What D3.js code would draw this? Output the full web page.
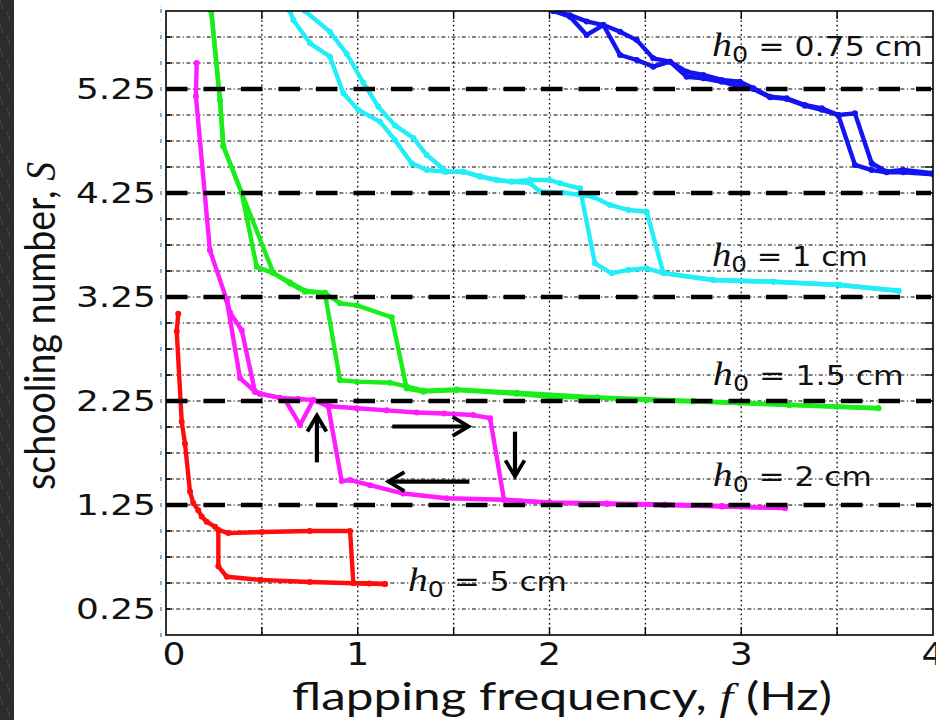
<!DOCTYPE html>
<html><head><meta charset="utf-8">
<script src="https://cdn.jsdelivr.net/npm/d3@7/dist/d3.min.js"></script>
<style>html,body{margin:0;padding:0;background:#fff;overflow:hidden}svg{display:block}</style>
</head><body>
<script>
// ---------- DATA (f in Hz, S schooling number) ----------
const seriesNames = ["h0 = 0.75 cm", "h0 = 1 cm", "h0 = 1.5 cm", "h0 = 2 cm", "h0 = 5 cm"];
const seriesColors = ["#1414f0", "#22eef8", "#1aee1a", "#ff1cff", "#ff0d0d"];

const blueUp = [[2.02,6.0],[2.107,5.96],[2.194,5.90],[2.281,5.865],[2.368,5.80],[2.455,5.72],[2.541,5.545],[2.628,5.513],[2.715,5.416],[2.802,5.385],[2.898,5.337],[2.993,5.32],[3.063,5.257],[3.15,5.176],[3.237,5.161],[3.332,5.096],[3.42,5.064],[3.506,5.0],[3.593,5.016],[3.68,4.536],[3.758,4.455],[3.845,4.471],[4.0,4.44]];
const blueDown = [[4.0,4.43],[3.845,4.45],[3.758,4.45],[3.68,4.47],[3.593,4.52],[3.506,5.0],[3.42,5.05],[3.332,5.09],[3.237,5.155],[3.15,5.17],[3.063,5.25],[2.993,5.272],[2.898,5.32],[2.802,5.353],[2.715,5.368],[2.628,5.513],[2.541,5.465],[2.455,5.529],[2.368,5.577],[2.281,5.865],[2.194,5.77],[2.107,5.945],[2.02,6.0]];

const cyanUp = [[0.725,6.0],[0.855,5.80],[0.942,5.59],[1.029,5.31],[1.107,5.08],[1.194,4.90],[1.29,4.78],[1.36,4.615],[1.464,4.455],[1.55,4.455],[1.638,4.41],[1.725,4.375],[1.803,4.36],[1.898,4.345],[1.95,4.265],[2.072,4.253],[2.228,4.214],[2.315,4.135],[2.411,4.087],[2.507,4.07],[2.594,3.48],[2.854,3.413],[3.167,3.397],[3.515,3.365],[3.82,3.31]];
const cyanDown = [[3.82,3.31],[3.515,3.365],[3.167,3.397],[2.854,3.413],[2.594,3.48],[2.507,3.526],[2.411,3.51],[2.324,3.478],[2.237,3.574],[2.159,4.295],[2.055,4.343],[2.0,4.375],[1.898,4.375],[1.803,4.359],[1.725,4.375],[1.638,4.407],[1.55,4.455],[1.455,4.455],[1.36,4.471],[1.281,4.536],[1.194,4.76],[1.116,4.936],[1.003,5.048],[0.925,5.209],[0.855,5.561],[0.751,5.689],[0.664,5.913],[0.647,6.0]];

const greenUp = [[0.236,6.0],[0.282,5.14],[0.299,4.70],[0.395,4.25],[0.56,3.48],[0.647,3.38],[0.725,3.30],[0.829,3.29],[0.907,3.19],[0.995,3.17],[1.177,3.055],[1.255,2.37],[1.342,2.34],[1.516,2.355],[1.829,2.32],[2.0,2.29],[2.25,2.28],[2.507,2.26],[2.75,2.245],[2.993,2.23],[3.25,2.21],[3.5,2.195],[3.715,2.18]];
const greenDown = [[3.715,2.18],[3.25,2.215],[2.75,2.25],[2.25,2.285],[1.829,2.33],[1.516,2.36],[1.342,2.35],[1.255,2.39],[1.168,2.426],[0.995,2.436],[0.907,2.45],[0.829,3.29],[0.725,3.31],[0.647,3.39],[0.56,3.48],[0.473,3.54],[0.395,4.25],[0.299,4.70],[0.282,5.14],[0.236,6.0]];

const magentaUp = [[0.16,5.50],[0.156,5.18],[0.229,3.70],[0.317,3.22],[0.386,2.47],[0.464,2.34],[0.49,2.32],[0.595,2.28],[0.69,2.27],[0.768,2.26],[0.855,2.20],[0.995,2.18],[1.15,2.16],[1.307,2.14],[1.45,2.13],[1.603,2.115],[1.69,2.085],[1.763,1.30],[2.0,1.27],[2.3,1.26],[2.6,1.25],[2.9,1.235],[3.228,1.22]];
const magentaDown = [[3.228,1.22],[2.9,1.24],[2.6,1.255],[2.3,1.265],[2.0,1.275],[1.763,1.30],[1.464,1.315],[1.238,1.36],[1.064,1.44],[0.96,1.49],[0.916,1.48],[0.846,2.20],[0.768,2.26],[0.699,2.02],[0.621,2.26],[0.595,2.28],[0.49,2.32],[0.464,2.34],[0.395,2.93],[0.334,3.10],[0.317,3.22]];

const redUp = [[0.064,3.09],[0.056,2.92],[0.082,2.05],[0.099,1.84],[0.125,1.38],[0.142,1.27],[0.168,1.20],[0.186,1.14],[0.212,1.09],[0.256,1.04],[0.273,1.01],[0.325,0.98],[0.5,0.99],[0.75,1.0],[0.96,1.0],[0.977,0.50],[1.06,0.495],[1.142,0.49]];
const redDown = [[1.142,0.49],[0.977,0.497],[0.75,0.51],[0.49,0.53],[0.317,0.56],[0.273,0.66],[0.273,1.01]];

const xTickValues = [0, 1, 2, 3, 4];
const xTickLabels = ["0", "1", "2", "3", "4"];
const yTickValues = [0.25, 1.25, 2.25, 3.25, 4.25, 5.25];
const yTickLabels = ["0.25", "1.25", "2.25", "3.25", "4.25", "5.25"];
const refLineValues = [1.25, 2.25, 3.25, 4.25, 5.25];
const labelValues = ["0.75", "1", "1.5", "2", "5"];
const labelAnchors = [[2.847, 5.57], [2.847, 3.55], [2.852, 2.405], [2.852, 1.435], [1.262, 0.425]];
// arrows: [f1,S1,f2,S2] tail -> head
const arrowData = [[0.787, 1.66, 0.787, 2.11], [1.18, 2.005, 1.578, 2.005], [1.82, 1.955, 1.82, 1.525], [1.582, 1.475, 1.16, 1.475]];

// ---------- LAYOUT ----------
const W = 936, H = 720;
const L = 166, R = 933, T = 11, B = 635;
const x = d3.scaleLinear().domain([0, 4]).range([L, R]);
const y = d3.scaleLinear().domain([0, 6]).range([B, T]);

const svg = d3.select("body").append("svg").attr("width", W).attr("height", H);
svg.append("rect").attr("width", W).attr("height", H).attr("fill", "#fff");
// dark textured left strip
const strip = svg.append("g");
strip.append("rect").attr("x", 0).attr("y", 0).attr("width", 14).attr("height", H).attr("fill", "#2c2c2c");
for (let i = 0; i < 60; i++) {
  strip.append("line").attr("x1", (i * 7) % 14).attr("x2", ((i * 7) % 14) + 3)
    .attr("y1", i * 12).attr("y2", i * 12 + 9).attr("stroke", "#4a4a4a").attr("stroke-width", 1);
}

// clip
svg.append("clipPath").attr("id", "clip").append("rect")
  .attr("x", L).attr("y", T).attr("width", R - L).attr("height", B - T);

// light blue dots left of axis
const blueTicks = d3.range(0, 6.01, 0.25);
svg.append("g").selectAll("line").data(blueTicks).join("line")
  .attr("x1", 161).attr("x2", 161).attr("y1", d => y(d) - 2).attr("y2", d => y(d) + 2)
  .attr("stroke", "#4f9fdc").attr("stroke-width", 1.6);
svg.append("line").attr("x1", 161).attr("x2", 161).attr("y1", 6).attr("y2", B + 3)
  .attr("stroke", "#8cc4ee").attr("stroke-width", 1).attr("stroke-dasharray", "1,12");

// grid
const grid = svg.append("g");
grid.selectAll("line.h").data(d3.range(0.25, 5.9, 0.25)).join("line").attr("class", "h")
  .attr("x1", L).attr("x2", R).attr("y1", d => y(d)).attr("y2", d => y(d))
  .attr("stroke", "#000").attr("stroke-width", 1.2).attr("stroke-dasharray", "4,2.5,1.2,2.5");
grid.selectAll("line.v").data(d3.range(0.5, 3.9, 0.5)).join("line").attr("class", "v")
  .attr("y1", T).attr("y2", B).attr("x1", d => x(d)).attr("x2", d => x(d))
  .attr("stroke", "#000").attr("stroke-width", 1.3).attr("stroke-dasharray", "1.6,3");

// curves
const line = d3.line().x(d => x(d[0])).y(d => y(d[1]));
const curveSets = [[blueUp, blueDown], [cyanUp, cyanDown], [greenUp, greenDown], [magentaUp, magentaDown], [redUp, redDown]];
const cg = svg.append("g").attr("clip-path", "url(#clip)");
curveSets.forEach((pair, i) => {
  pair.forEach(arr => {
    cg.append("path").attr("d", line(arr)).attr("fill", "none")
      .attr("stroke", seriesColors[i]).attr("stroke-width", 4.4)
      .attr("stroke-linejoin", "round").attr("stroke-linecap", "round");
    cg.append("g").selectAll("circle").data(arr).join("circle")
      .attr("cx", d => x(d[0])).attr("cy", d => y(d[1])).attr("r", 3).attr("fill", seriesColors[i]);
  });
});

// heavy dashed reference lines (drawn above curves)
svg.append("g").selectAll("line").data(refLineValues).join("line")
  .attr("x1", L).attr("x2", R - 2).attr("y1", d => y(d)).attr("y2", d => y(d))
  .attr("stroke", "#000").attr("stroke-width", 4.6).attr("stroke-dasharray", "21.5,16");

// axes frame + ticks
const ax = svg.append("g");
ax.selectAll("line.rt").data(d3.range(0.25, 5.9, 0.25)).join("line").attr("class", "rt")
  .attr("x1", R - 8).attr("x2", R).attr("y1", d => y(d)).attr("y2", d => y(d)).attr("stroke", "#000").attr("stroke-width", 1.4);
ax.selectAll("line.lt").data(d3.range(0.25, 5.9, 0.25)).join("line").attr("class", "lt")
  .attr("x1", L).attr("x2", L + 6).attr("y1", d => y(d)).attr("y2", d => y(d)).attr("stroke", "#000").attr("stroke-width", 1.4);
ax.selectAll("line.bt").data(d3.range(0.5, 3.9, 0.5)).join("line").attr("class", "bt")
  .attr("x1", d => x(d)).attr("x2", d => x(d)).attr("y1", B).attr("y2", B - 8).attr("stroke", "#000").attr("stroke-width", 1.4);
ax.selectAll("line.tt").data(d3.range(0.5, 3.9, 0.5)).join("line").attr("class", "tt")
  .attr("x1", d => x(d)).attr("x2", d => x(d)).attr("y1", T).attr("y2", T + 8).attr("stroke", "#000").attr("stroke-width", 1.4);
ax.append("rect").attr("x", L).attr("y", T).attr("width", R - L).attr("height", B - T)
  .attr("fill", "none").attr("stroke", "#000").attr("stroke-width", 1.6);

// arrows
const ar = svg.append("g").attr("stroke", "#000").attr("stroke-width", 4.2).attr("fill", "none");
arrowData.forEach(a => {
  const x1 = x(a[0]), y1 = y(a[1]), x2 = x(a[2]), y2 = y(a[3]);
  const ang = Math.atan2(y2 - y1, x2 - x1);
  const hl = 16, hw = 9.5;
  const bx = x2 - hl * Math.cos(ang), by = y2 - hl * Math.sin(ang);
  const px = -Math.sin(ang) * hw, py = Math.cos(ang) * hw;
  ar.append("line").attr("x1", x1).attr("y1", y1).attr("x2", x2 - 2 * Math.cos(ang)).attr("y2", y2 - 2 * Math.sin(ang));
  ar.append("path").attr("d", `M${bx + px},${by + py}L${x2},${y2}L${bx - px},${by - py}`)
    .attr("stroke-linejoin", "miter").attr("stroke-width", 3.8);
});

// text helper: stretch horizontally to a target width
function fitH(t, xPos, yPos, w, anchor) {
  const bb = t.node().getBBox();
  const sx = w / bb.width;
  const left = anchor === "end" ? xPos - w : anchor === "middle" ? xPos - w / 2 : xPos;
  t.attr("transform", `translate(${left - bb.x * sx},${yPos}) scale(${sx},1)`);
}

// y tick labels
const tickFont = "'DejaVu Sans', Verdana, sans-serif";
yTickValues.forEach((v, i) => {
  const t = svg.append("text").attr("font-family", tickFont).attr("font-size", 28).attr("fill", "#111")
    .text(yTickLabels[i]);
  fitH(t, 156, y(v) + 10, 80, "end");
});
// x tick labels
xTickValues.forEach((v, i) => {
  const t = svg.append("text").attr("font-family", tickFont).attr("font-size", 32).attr("fill", "#111")
    .text(xTickLabels[i]);
  const cx = i === 0 ? x(v) + 8 : x(v);
  fitH(t, cx, 665, 23, "middle");
});

// axis titles
const xt = svg.append("text").attr("font-family", "Lato, 'Open Sans', sans-serif").attr("font-size", 38).attr("fill", "#111");
xt.append("tspan").text("flapping frequency, ");
xt.append("tspan").attr("font-family", "'Liberation Serif', serif").attr("font-style", "italic").text("f");
xt.append("tspan").text(" (Hz)");
fitH(xt, 292, 710, 540, "start");

const yt = svg.append("text").attr("font-family", "Lato, 'Open Sans', sans-serif").attr("font-size", 42).attr("fill", "#111")
  .attr("text-anchor", "middle");
yt.append("tspan").text("schooling number, ");
yt.append("tspan").attr("font-family", "'Liberation Serif', serif").attr("font-style", "italic").text("S");
{
  const bb = yt.node().getBBox();
  const s = 328 / bb.width;
  yt.attr("transform", `translate(55,326) rotate(-90) scale(${s},1)`);
}

// h0 labels
const labelWidths = [211, 156, 191, 159, 159];
labelValues.forEach((v, i) => {
  const t = svg.append("text").attr("font-family", tickFont).attr("font-size", 26).attr("fill", "#111");
  t.append("tspan").attr("font-family", "'Liberation Serif', serif").attr("font-style", "italic").attr("font-size", 33).text("h");
  t.append("tspan").attr("font-size", 21).attr("dy", 6).text("0");
  t.append("tspan").attr("dy", -6).text(" = " + v + " cm");
  fitH(t, x(labelAnchors[i][0]), y(labelAnchors[i][1]), labelWidths[i], "start");
});
</script>
</body></html>
